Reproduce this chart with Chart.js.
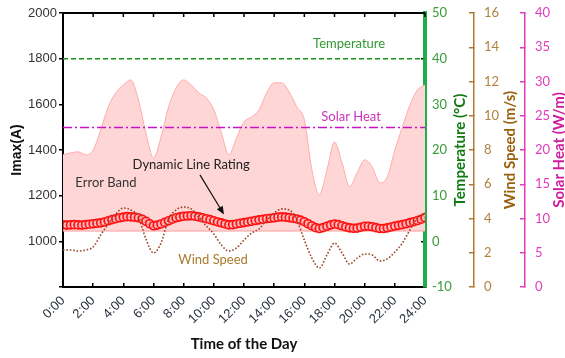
<!DOCTYPE html>
<html>
<head>
<meta charset="utf-8">
<script src="https://cdn.jsdelivr.net/npm/chart.js@4.4.0/dist/chart.umd.min.js"></script>
<style>
  body { margin: 0; background: #fff; }
</style>
</head>
<body>
<canvas id="dlrChart" width="565" height="358"></canvas>
<script>
// time grids (hours): band and wind read every 30 min, DLR every 15 min
const halfHours = Array.from({length: 49}, (_, i) => i / 2);
const quarterHours = Array.from({length: 97}, (_, i) => i / 4);

// dynamic line rating (A)
const dlrAmps = [
  1072, 1071, 1072, 1073, 1072, 1071, 1073, 1075, 1077, 1079, 1081, 1085,
  1090, 1095, 1099, 1103, 1106, 1108, 1107, 1106, 1103, 1097, 1088, 1077,
  1068, 1071, 1076, 1083, 1090, 1097, 1103, 1107, 1110, 1111, 1112, 1110,
  1107, 1103, 1099, 1095, 1090, 1085, 1081, 1076, 1072, 1073, 1076, 1079,
  1082, 1085, 1088, 1091, 1094, 1097, 1099, 1101, 1103, 1106, 1107, 1106,
  1104, 1101, 1098, 1093, 1086, 1077, 1068, 1060, 1056, 1060, 1066, 1072,
  1076, 1073, 1068, 1063, 1059, 1057, 1058, 1062, 1066, 1066, 1064, 1060,
  1056, 1056, 1059, 1063, 1067, 1070, 1073, 1077, 1082, 1086, 1091, 1097,
  1104
];

// upper edge of the error band (A); lower edge is flat
const bandUpper = [
  1379, 1387, 1392, 1379, 1400, 1488, 1589, 1650, 1685, 1707, 1619, 1475,
  1365, 1457, 1589, 1672, 1707, 1685, 1650, 1628, 1576, 1475, 1379, 1453,
  1523, 1545, 1576, 1650, 1694, 1694, 1654, 1589, 1532, 1313, 1204, 1313,
  1435, 1344, 1239, 1300, 1357, 1326, 1256, 1282, 1400, 1501, 1597, 1663,
  1685
];
const bandFloor = 1045;

// wind speed (m/s)
const windSpeed = [
  2.16, 2.16, 2.10, 2.16, 2.34, 3.04, 3.68, 4.26, 4.61, 4.50, 4.09, 2.80,
  1.99, 2.57, 3.97, 4.50, 4.67, 4.56, 4.09, 3.56, 3.10, 2.45, 2.10, 2.28,
  2.74, 3.15, 3.39, 3.91, 4.32, 4.56, 4.50, 3.91, 2.74, 1.69, 1.11, 1.87,
  2.57, 1.99, 1.34, 1.69, 1.93, 1.87, 1.52, 1.64, 2.04, 2.57, 3.33, 4.03,
  4.32
];

const temperature = 40;   // °C, constant over the day
const solarHeat = 23.3;   // W/m, constant over the day

const toPoints = (xs, ys) => ys.map((y, i) => ({x: xs[i], y: y}));
const flat = v => [{x: 0, y: v}, {x: 24, y: v}];

// text labels inside the plot, placed in hours / amps
const notes = [
  {text: 'Temperature', h: 18.97, amps: 1864, color: '#339933'},
  {text: 'Solar Heat', h: 19.1, amps: 1545, color: '#cc33bb'},
  {text: 'Error Band', h: 2.85, amps: 1256, color: '#333333'},
  {text: 'Dynamic Line Rating', h: 8.5, amps: 1335, color: '#222222'},
  {text: 'Wind Speed', h: 9.95, amps: 919, color: '#a97b2c'}
];

const plotNotes = {
  id: 'plotNotes',
  afterDatasetsDraw(chart) {
    const {ctx, chartArea, scales: {x, y}} = chart;
    ctx.save();

    // top frame with inward ticks
    ctx.strokeStyle = '#000';
    ctx.lineWidth = 2;
    ctx.beginPath();
    ctx.moveTo(chartArea.left, chartArea.top);
    ctx.lineTo(chartArea.right, chartArea.top);
    ctx.stroke();
    ctx.lineWidth = 1.5;
    x.ticks.forEach(t => {
      const px = x.getPixelForValue(t.value);
      ctx.beginPath();
      ctx.moveTo(px, chartArea.top);
      ctx.lineTo(px, chartArea.top + 4);
      ctx.stroke();
    });

    ctx.font = '13px Lato';
    ctx.textAlign = 'center';
    ctx.textBaseline = 'middle';
    notes.forEach(n => {
      ctx.fillStyle = n.color;
      ctx.fillText(n.text, x.getPixelForValue(n.h), y.getPixelForValue(n.amps));
    });

    // arrow pointing at the DLR curve
    const x0 = x.getPixelForValue(9.08), y0 = y.getPixelForValue(1291);
    const x1 = x.getPixelForValue(10.67), y1 = y.getPixelForValue(1118);
    const ang = Math.atan2(y1 - y0, x1 - x0);
    ctx.strokeStyle = '#111';
    ctx.fillStyle = '#111';
    ctx.lineWidth = 1.2;
    ctx.beginPath();
    ctx.moveTo(x0, y0);
    ctx.lineTo(x1 - 6 * Math.cos(ang), y1 - 6 * Math.sin(ang));
    ctx.stroke();
    ctx.beginPath();
    ctx.moveTo(x1, y1);
    ctx.lineTo(x1 - 8 * Math.cos(ang) + 3.5 * Math.sin(ang), y1 - 8 * Math.sin(ang) - 3.5 * Math.cos(ang));
    ctx.lineTo(x1 - 8 * Math.cos(ang) - 3.5 * Math.sin(ang), y1 - 8 * Math.sin(ang) + 3.5 * Math.cos(ang));
    ctx.closePath();
    ctx.fill();
    ctx.restore();
  }
};

// right-hand axis titles read bottom to top
const sideTitles = {
  id: 'sideTitles',
  afterDraw(chart) {
    const {ctx, chartArea} = chart;
    const midY = (chartArea.top + chartArea.bottom) / 2;
    [
      ['temp', 'Temperature (°C)', '#137a13', 14],
      ['wind', 'Wind Speed (m/s)', '#99600e', 15],
      ['solar', 'Solar Heat (W/m)', '#d01aa0', 6]
    ].forEach(([id, text, color, inset]) => {
      const s = chart.scales[id];
      ctx.save();
      ctx.translate(s.right - inset, midY);
      ctx.rotate(-Math.PI / 2);
      ctx.font = 'bold 15px Lato';
      ctx.fillStyle = color;
      ctx.textAlign = 'center';
      ctx.textBaseline = 'middle';
      ctx.fillText(text, 0, 0);
      ctx.restore();
    });
  }
};

// fixed box width for a side axis; the wide label padding should not push the plot down
const sideFit = width => s => {
  s.width = width;
  s.paddingTop = 7;
  s.paddingBottom = 7;
};

const tickFont = {family: 'Liberation Sans', size: 13};
const sideFont = {family: 'Lato', size: 13};

new Chart(document.getElementById('dlrChart'), {
  type: 'line',
  data: {
    datasets: [
      {
        label: 'Error Band',
        data: toPoints(halfHours, bandUpper),
        yAxisID: 'y',
        borderColor: '#ffabab',
        borderWidth: 1,
        backgroundColor: '#ffd6d6',
        fill: {value: bandFloor},
        pointRadius: 0,
        cubicInterpolationMode: 'monotone',
        order: 6
      },
      {
        label: 'Band floor',
        data: flat(bandFloor),
        yAxisID: 'y',
        borderColor: '#ff9e9e',
        borderWidth: 1,
        pointRadius: 0,
        order: 5
      },
      {
        label: 'Temperature',
        data: flat(temperature),
        yAxisID: 'temp',
        borderColor: '#1d931d',
        borderWidth: 1.5,
        borderDash: [5, 3],
        pointRadius: 0,
        order: 4
      },
      {
        label: 'Solar Heat',
        data: flat(solarHeat),
        yAxisID: 'solar',
        borderColor: '#c911c9',
        borderWidth: 1.5,
        borderDash: [9, 3, 2, 3],
        pointRadius: 0,
        order: 3
      },
      {
        label: 'Dynamic Line Rating',
        data: toPoints(quarterHours, dlrAmps),
        yAxisID: 'y',
        borderColor: '#ff0000',
        borderWidth: 1.5,
        pointRadius: 4,
        pointBorderWidth: 1.6,
        pointBorderColor: '#ff1010',
        pointBackgroundColor: 'rgba(255, 200, 200, 0.6)',
        order: 2
      },
      {
        label: 'Wind Speed',
        data: toPoints(halfHours, windSpeed),
        yAxisID: 'wind',
        borderColor: '#9a4526',
        borderWidth: 1.6,
        borderDash: [1.6, 1.8],
        pointRadius: 0,
        cubicInterpolationMode: 'monotone',
        order: 1
      }
    ]
  },
  options: {
    responsive: false,
    animation: false,
    layout: {padding: {top: 13, left: 0, right: 0, bottom: 0}},
    plugins: {legend: {display: false}, tooltip: {enabled: false}},
    scales: {
      x: {
        type: 'linear',
        position: 'bottom',
        min: 0,
        max: 24,
        ticks: {
          stepSize: 2,
          minRotation: 45,
          maxRotation: 45,
          color: '#2b3340',
          font: {family: 'Liberation Sans', size: 13},
          padding: 10,
          callback: v => v + ':00'
        },
        grid: {drawOnChartArea: false, tickLength: -4, color: '#000', lineWidth: 1.5},
        border: {color: '#000', width: 2},
        title: {
          display: true,
          text: 'Time of the Day',
          color: '#111',
          font: {family: 'Lato', size: 15, weight: 'bold'},
          padding: {top: 0, bottom: 5}
        },
        afterFit: s => { s.height = 71; }
      },
      y: {
        position: 'left',
        min: 800,
        max: 2000,
        ticks: {
          stepSize: 200,
          color: '#333',
          font: tickFont,
          padding: 2,
          callback: v => (v === 800 ? '' : v)
        },
        grid: {drawOnChartArea: false, tickLength: 4, color: '#000', lineWidth: 1.5},
        border: {color: '#000', width: 2},
        title: {
          display: true,
          text: 'Imax(A)',
          color: '#111',
          font: {family: 'Liberation Sans', size: 14, weight: 'bold'},
          padding: {top: 9, bottom: 0}
        },
        afterFit: s => { s.width = 63; }
      },
      temp: {
        position: 'right',
        weight: 1,
        min: -10,
        max: 50,
        ticks: {stepSize: 10, color: '#3a9a3a', font: sideFont, padding: 11},
        grid: {drawOnChartArea: false, tickLength: -4, color: '#000', lineWidth: 1.5},
        border: {color: '#1fae4a', width: 4},
        afterFit: sideFit(49)
      },
      wind: {
        position: 'right',
        weight: 2,
        min: 0,
        max: 16,
        ticks: {stepSize: 2, color: '#b0823e', font: sideFont, padding: 15},
        grid: {drawOnChartArea: false, tickLength: -5, color: '#b07a35', lineWidth: 1.5},
        border: {color: '#b07a35', width: 1.5},
        afterFit: sideFit(51)
      },
      solar: {
        position: 'right',
        weight: 3,
        min: 0,
        max: 40,
        ticks: {stepSize: 5, color: '#e03cbf', font: sideFont, padding: 15},
        grid: {drawOnChartArea: false, tickLength: -5, color: '#e03cbf', lineWidth: 1.5},
        border: {color: '#e03cbf', width: 1.5},
        afterFit: sideFit(40)
      }
    }
  },
  plugins: [plotNotes, sideTitles]
});
</script>
</body>
</html>
